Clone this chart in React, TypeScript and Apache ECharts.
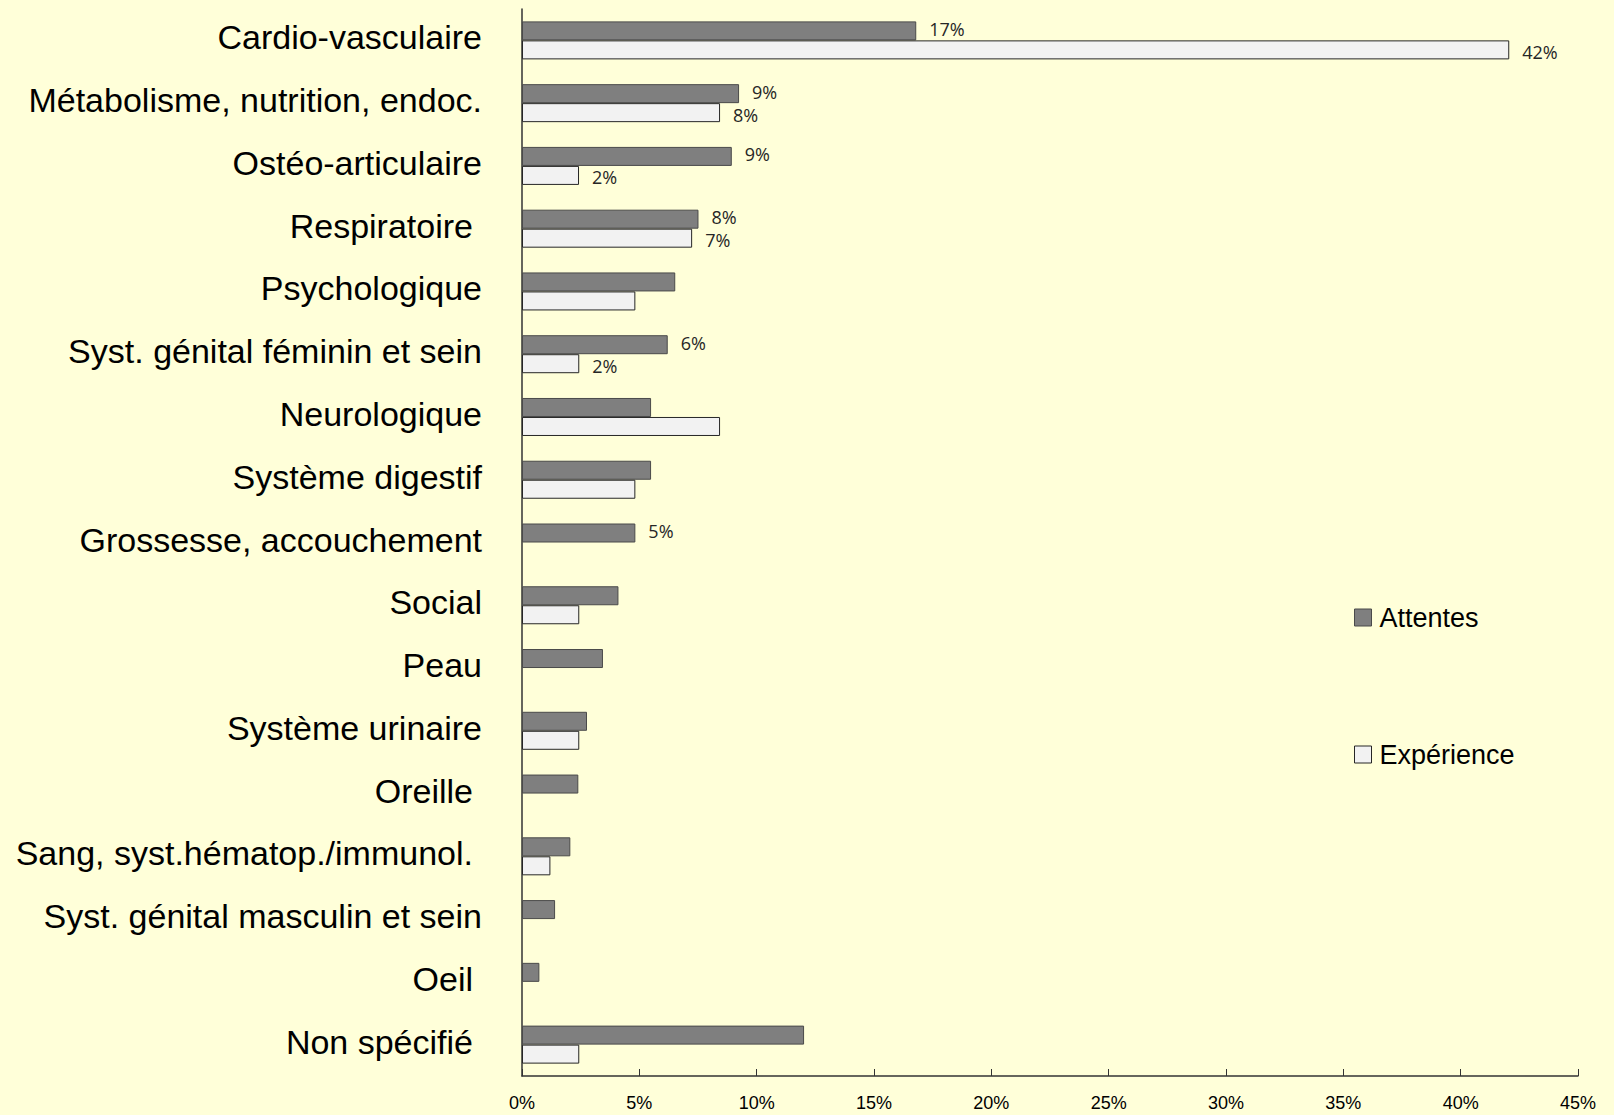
import React, { useEffect, useRef } from 'react';
import * as echarts from 'echarts';

const categories = [
  'Cardio-vasculaire',
  'Métabolisme, nutrition, endoc.',
  'Ostéo-articulaire',
  'Respiratoire ',
  'Psychologique',
  'Syst. génital féminin et sein',
  'Neurologique',
  'Système digestif',
  'Grossesse, accouchement',
  'Social',
  'Peau',
  'Système urinaire',
  'Oreille ',
  'Sang, syst.hématop./immunol. ',
  'Syst. génital masculin et sein',
  'Oeil ',
  'Non spécifié ',
];

const attentes = [16.8, 9.25, 8.94, 7.52, 6.53, 6.21, 5.5, 5.5, 4.83, 4.11, 3.45, 2.77, 2.4, 2.06, 1.41, 0.74, 12.02];
const experience = [42.07, 8.44, 2.43, 7.25, 4.83, 2.44, 8.44, 4.83, null, 2.44, null, 2.44, null, 1.21, null, null, 2.44];

const attentesLabelShown = [true, true, true, true, false, true, false, false, true, false, false, false, false, false, false, false, false];
const experienceLabelShown = [true, true, true, true, false, true, false, false, false, false, false, false, false, false, false, false, false];

const seriesNames = ['Attentes', 'Expérience'];
const xMin = 0;
const xMax = 45;
const xInterval = 5;

const SANS = "'Liberation Sans', Arial, sans-serif";
const LABEL_FONT = "'Open Sans', 'Noto Sans', sans-serif";

const fills = ['#7f7f7f', '#f2f2f2'];
const borders = ['#4a4a4a', '#262626'];

function buildData(values: (number | null)[], shown: boolean[]) {
  return values.map((v, i) => ({
    value: v,
    label: { show: shown[i] && v !== null },
  }));
}

export default function App() {
  const ref = useRef<HTMLDivElement>(null);
  useEffect(() => {
    if (!ref.current) return;
    const chart = echarts.init(ref.current, undefined, { renderer: 'svg' });
    const labelCfg = (dy: number) => ({
      position: 'right',
      distance: 13,
      offset: [0, dy],
      fontFamily: LABEL_FONT,
      fontSize: 18,
      color: '#262626',
      formatter: (p: any) => Math.round(p.value) + '%',
    });
    const legendBase = {
      orient: 'vertical',
      left: 1354,
      padding: 0,
      itemWidth: 17,
      itemHeight: 17,
      icon: 'rect',
      selectedMode: false,
      textStyle: { fontFamily: SANS, fontSize: 27, color: '#000', padding: [0, 0, 0, 3] },
    };
    chart.setOption({
      animation: false,
      backgroundColor: '#ffffd9',
      grid: { left: 522, right: 36, top: 9, bottom: 39, containLabel: false, outerBoundsMode: 'none' },
      legend: [
        {
          ...legendBase,
          top: 604,
          data: [{ name: seriesNames[0], itemStyle: { color: fills[0], borderColor: borders[0], borderWidth: 1 } }],
        },
        {
          ...legendBase,
          top: 741,
          data: [{ name: seriesNames[1], itemStyle: { color: fills[1], borderColor: borders[1], borderWidth: 1 } }],
        },
      ],
      xAxis: {
        type: 'value',
        min: xMin,
        max: xMax,
        interval: xInterval,
        splitLine: { show: false },
        axisLine: { show: true, lineStyle: { color: '#333', width: 1.5 } },
        axisTick: { show: true, inside: true, length: 7, lineStyle: { color: '#333' } },
        axisLabel: {
          formatter: '{value}%',
          fontFamily: SANS,
          fontSize: 18,
          color: '#000',
          margin: 18,
        },
      },
      yAxis: {
        type: 'category',
        inverse: true,
        data: categories,
        axisLine: { show: true, lineStyle: { color: '#333', width: 1.5 } },
        axisTick: { show: false },
        splitLine: { show: false },
        axisLabel: {
          fontFamily: SANS,
          fontSize: 34,
          color: '#000',
          margin: 40,
          padding: [0, 0, 6, 0],
          formatter: (v: string) => (v.endsWith(' ') ? `{sp|${v.trim()}}` : v),
          rich: {
            sp: { fontFamily: SANS, fontSize: 34, color: '#000', padding: [0, 9, 0, 0] },
          },
        },
      },
      series: [
        {
          name: seriesNames[0],
          type: 'bar',
          barWidth: 19,
          barGap: '0%',
          data: buildData(attentes, attentesLabelShown),
          itemStyle: { color: fills[0], borderColor: borders[0], borderWidth: 1 },
          label: labelCfg(-2),
        },
        {
          name: seriesNames[1],
          type: 'bar',
          barWidth: 19,
          barGap: '0%',
          data: buildData(experience, experienceLabelShown),
          itemStyle: { color: fills[1], borderColor: borders[1], borderWidth: 1 },
          label: labelCfg(2),
        },
      ],
    });
    return () => chart.dispose();
  }, []);
  return <div ref={ref} style={{ position: 'absolute', left: 0, top: 0, width: 1614, height: 1115 }} />;
}
